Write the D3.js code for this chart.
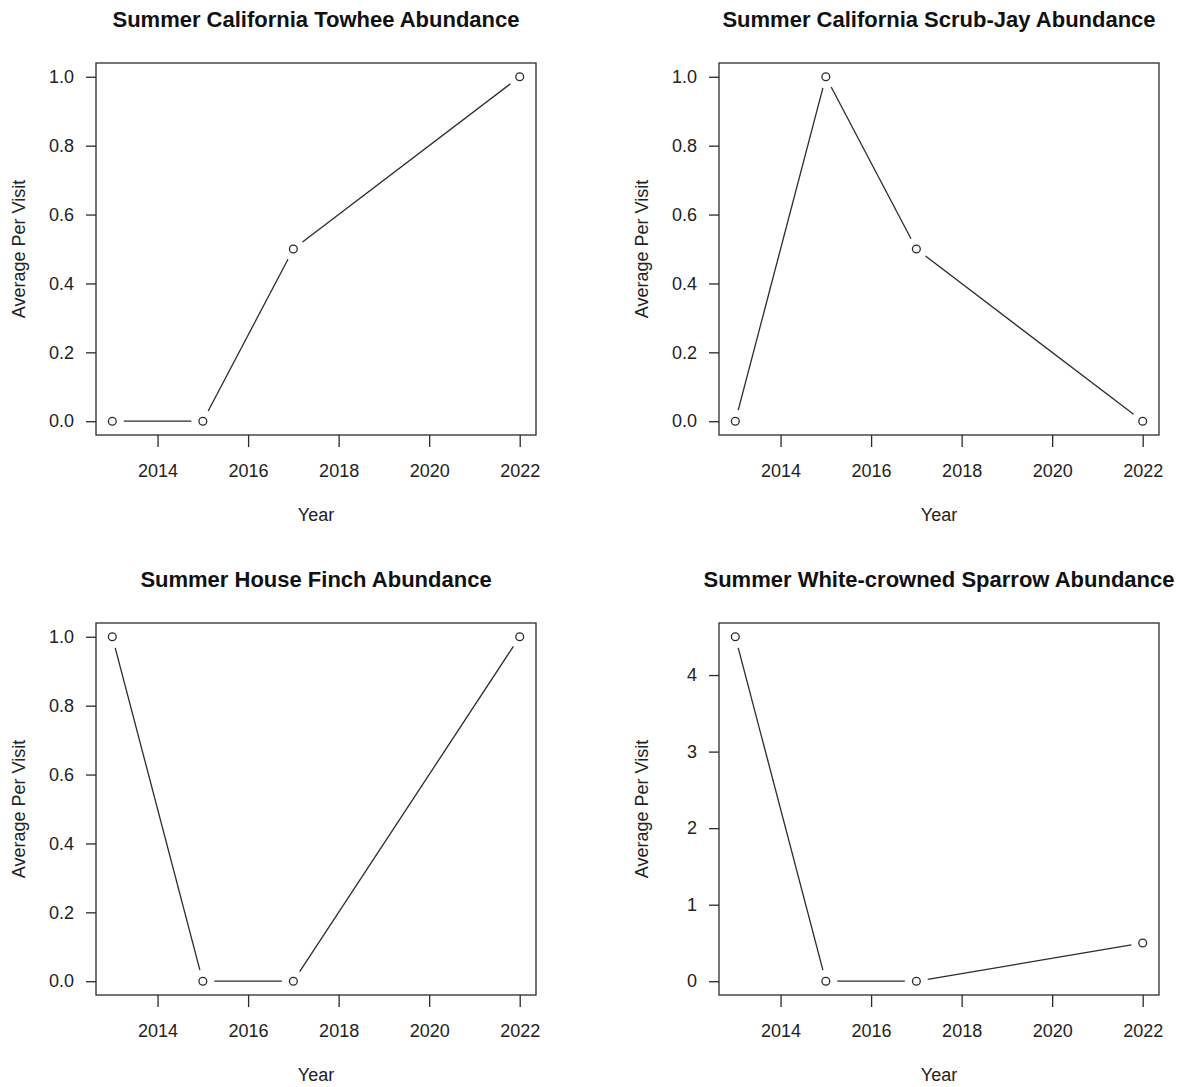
<!DOCTYPE html>
<html>
<head>
<meta charset="utf-8">
<script src="https://cdn.jsdelivr.net/npm/d3@7"></script>
<style>
  html, body { margin: 0; padding: 0; background: #fff; }
  svg { display: block; font-family: "Liberation Sans", Arial, Helvetica, sans-serif; }
</style>
</head>
<body>
<svg id="chart" width="1181" height="1087"></svg>
<script>
// Survey years and mean birds counted per visit
const years = [2013, 2015, 2017, 2022];
const towhee = [0, 0, 0.5, 1];
const scrubJay = [0, 1, 0.5, 0];
const houseFinch = [1, 0, 0, 1];
const whiteCrownedSparrow = [4.5, 0, 0, 0.5];

const titles = [
  "Summer California Towhee Abundance",
  "Summer California Scrub-Jay Abundance",
  "Summer House Finch Abundance",
  "Summer White-crowned Sparrow Abundance"
];
const xTicks = [2014, 2016, 2018, 2020, 2022];
const yTicksUnit = [0, 0.2, 0.4, 0.6, 0.8, 1.0];
const yTicksSparrow = [0, 1, 2, 3, 4];

const panels = [
  { title: titles[0], values: towhee, yTicks: yTicksUnit, fmt: d3.format(".1f"), left: 96, top: 63 },
  { title: titles[1], values: scrubJay, yTicks: yTicksUnit, fmt: d3.format(".1f"), left: 719, top: 63 },
  { title: titles[2], values: houseFinch, yTicks: yTicksUnit, fmt: d3.format(".1f"), left: 96, top: 623 },
  { title: titles[3], values: whiteCrownedSparrow, yTicks: yTicksSparrow, fmt: d3.format("d"), left: 719, top: 623 }
];

const W = 440, H = 372;
const ink = "#2b2b2b";
const svg = d3.select("#chart");

// extend a range by 4% on each side, as base graphics does
function padded(lo, hi) {
  const p = (hi - lo) * 0.04;
  return [lo - p, hi + p];
}

panels.forEach(p => {
  const g = svg.append("g").attr("transform", `translate(${p.left},${p.top})`);
  const x = d3.scaleLinear().domain(padded(d3.min(years), d3.max(years))).range([0, W]);
  const y = d3.scaleLinear().domain(padded(d3.min(p.values), d3.max(p.values))).range([H, 0]);

  // frame
  g.append("rect").attr("x", 0).attr("y", 0).attr("width", W).attr("height", H)
    .attr("fill", "none").attr("stroke", ink).attr("stroke-width", 1.3);

  // x axis
  const xa = g.append("g").attr("transform", `translate(0,${H})`)
    .call(d3.axisBottom(x).tickValues(xTicks).tickFormat(d3.format("d")).tickSize(12).tickPadding(17));
  xa.select(".domain").remove();
  xa.selectAll("line").attr("stroke", ink).attr("stroke-width", 1.3);
  xa.selectAll("text").attr("font-size", 18).attr("fill", "#222").attr("font-family", null);

  // y axis
  const ya = g.append("g")
    .call(d3.axisLeft(y).tickValues(p.yTicks).tickFormat(p.fmt).tickSize(10).tickPadding(12));
  ya.select(".domain").remove();
  ya.selectAll("line").attr("stroke", ink).attr("stroke-width", 1.3);
  ya.selectAll("text").attr("font-size", 18).attr("fill", "#222").attr("font-family", null);

  // title and axis labels
  g.append("text").attr("x", W / 2).attr("y", 27 - p.top + (p.top > 300 ? 560 : 0))
    .attr("text-anchor", "middle").attr("font-size", 22).attr("font-weight", "bold").attr("fill", "#111")
    .text(p.title);
  g.append("text").attr("x", W / 2).attr("y", H + 86)
    .attr("text-anchor", "middle").attr("font-size", 18).attr("fill", "#222").text("Year");
  g.append("text").attr("transform", `translate(-71,${H / 2}) rotate(-90)`)
    .attr("text-anchor", "middle").attr("font-size", 18).attr("fill", "#222").text("Average Per Visit");

  // connecting segments, stopped short of each marker
  const pts = years.map((yr, i) => [x(yr), y(p.values[i])]);
  const gap = 11.5;
  d3.pairs(pts).forEach(([a, b]) => {
    const dx = b[0] - a[0], dy = b[1] - a[1];
    const len = Math.hypot(dx, dy);
    if (len <= 2 * gap) return;
    const ux = dx / len, uy = dy / len;
    g.append("line")
      .attr("x1", a[0] + ux * gap).attr("y1", a[1] + uy * gap)
      .attr("x2", b[0] - ux * gap).attr("y2", b[1] - uy * gap)
      .attr("stroke", ink).attr("stroke-width", 1.3);
  });

  // open circle markers
  g.selectAll("circle.pt").data(pts).join("circle").attr("class", "pt")
    .attr("cx", d => d[0]).attr("cy", d => d[1]).attr("r", 3.9)
    .attr("fill", "#fff").attr("stroke", ink).attr("stroke-width", 1.3);
});
</script>
</body>
</html>
